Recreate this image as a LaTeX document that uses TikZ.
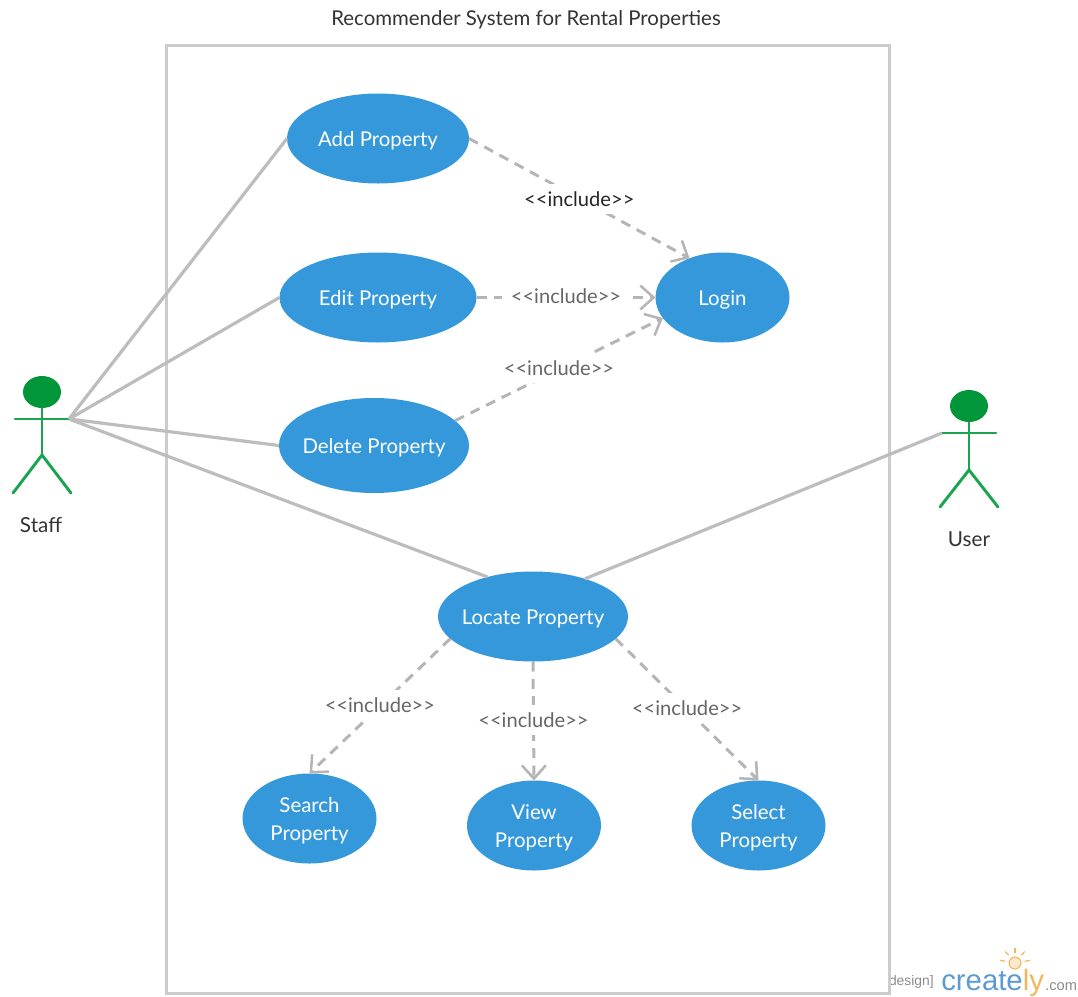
\documentclass[tikz,border=0pt]{standalone}
\usepackage{fontspec}
\setmainfont{Lato}
\newfontfamily\wmfont{Liberation Sans}
\usetikzlibrary{arrows.meta,shapes.geometric}
\definecolor{usecase}{HTML}{3498DB}
\definecolor{headgreen}{HTML}{009639}
\definecolor{limbgreen}{HTML}{1AA350}
\definecolor{frameg}{HTML}{CCCCCC}
\definecolor{assoc}{HTML}{BDBDBD}
\definecolor{dep}{HTML}{B5B5B5}
\definecolor{labelg}{HTML}{666666}
\definecolor{wmblue}{HTML}{5B9BD0}
\definecolor{wmorange}{HTML}{F5B55A}
\newcommand{\uctext}[1]{\raisebox{-5.2pt}[0pt][0pt]{\makebox[0pt]{\begin{tabular}{@{}c@{}}#1\end{tabular}}}}
\tikzset{
  x=0.75pt,y=-0.75pt,
  ucase/.style={ellipse,fill=usecase,text=white,inner sep=0pt,outer sep=0pt,
    font=\fontsize{15.3}{21}\selectfont},
  assocline/.style={draw=assoc,line width=2.4pt},
  depline/.style={draw=dep,line width=2.25pt,dash pattern=on 7.5pt off 5.5pt,
    -{Straight Barb[length=10pt,width=18pt,line width=1.9pt]}},
  inclabel/.style={midway,fill=white,inner xsep=7pt,inner ysep=5.5pt,text=labelg,yshift=1pt,font=\fontsize{15.1}{17}\selectfont},
  limb/.style={draw=limbgreen,line width=2.2pt,line cap=round},
  actorlabel/.style={text=black!80,font=\fontsize{15.5}{17}\selectfont},
}
\begin{document}
\begin{tikzpicture}
\useasboundingbox (0,0) rectangle (1078,996);
\node[text=black!80,font=\fontsize{15.3}{17}\selectfont] (title) at (526,19.5) {Recommender System for Rental Properties};
\node[text=black!45,font=\wmfont\fontsize{10.4}{12}\selectfont,anchor=east,inner sep=0pt] (wmdesign) at (934,982) {design]};
\node[draw=frameg,line width=2.25pt,minimum width=723*0.75pt,minimum height=948*0.75pt,inner sep=0pt] (frame) at (527.5,519) {};

% use cases
\node[ucase,minimum width=182*0.75pt,minimum height=90*0.75pt] (add) at (378,138.5) {\uctext{Add Property}};
\node[ucase,minimum width=197*0.75pt,minimum height=90*0.75pt] (edit) at (378,297.5) {\uctext{Edit Property}};
\node[ucase,minimum width=190*0.75pt,minimum height=95*0.75pt] (delete) at (374,445.5) {\uctext{Delete Property}};
\node[ucase,minimum width=134*0.75pt,minimum height=90*0.75pt] (login) at (722.5,297.5) {\uctext{Login}};
\node[ucase,minimum width=190*0.75pt,minimum height=90*0.75pt] (locate) at (533,616.5) {\uctext{Locate Property}};
\node[ucase,minimum width=134*0.75pt,minimum height=90*0.75pt] (search) at (309.5,818.5) {\uctext{Search\\Property}};
\node[ucase,minimum width=134*0.75pt,minimum height=90*0.75pt] (view) at (534,825.5) {\uctext{View\\Property}};
\node[ucase,minimum width=134*0.75pt,minimum height=90*0.75pt] (select) at (758.5,825.5) {\uctext{Select\\Property}};

% Staff actor
\node[ellipse,fill=headgreen,minimum width=38*0.75pt,minimum height=32*0.75pt,inner sep=0pt] (staffhead) at (42,392) {};
\coordinate (staffhand) at (69,419);
\coordinate (staffhandl) at (15,419);
\coordinate (staffhip) at (42,455);
\draw[limb] (staffhandl) -- (staffhand);
\draw[limb] (staffhead.south) -- (staffhip);
\draw[limb] (13,493) -- (staffhip) -- (71,493);
\node[actorlabel] (stafflabel) at (41,525) {Staff};

% User actor
\node[ellipse,fill=headgreen,minimum width=38*0.75pt,minimum height=32*0.75pt,inner sep=0pt] (userhead) at (969,406) {};
\coordinate (userhand) at (942,433);
\coordinate (userhandr) at (996,433);
\coordinate (userhip) at (969,470);
\draw[limb] (userhand) -- (userhandr);
\draw[limb] (userhead.south) -- (userhip);
\draw[limb] (940,507) -- (userhip) -- (998,507);
\node[actorlabel] (userlabel) at (969,539.5) {User};

% associations
\draw[assocline] (staffhand) -- (add.west);
\draw[assocline] (staffhand) -- (edit.west);
\draw[assocline] (staffhand) -- (delete.west);
\draw[assocline] (staffhand) -- (locate.139);
\draw[assocline] (userhand) -- (locate.36.5);

% includes
\draw[depline] (add.east) -- (login.130) node[inclabel,text=black!85,yshift=-1.5pt] {<{}<include>{}>};
\draw[depline] (edit.east) -- (login.west) node[inclabel] {<{}<include>{}>};
\draw[depline] (delete.17) -- (login.199.6) node[inclabel] {<{}<include>{}>};
\draw[depline] (locate.195) -- (search.north) node[inclabel] {<{}<include>{}>};
\draw[depline] (locate.south) -- (view.north) node[inclabel] {<{}<include>{}>};
\draw[depline] (locate.-15) -- (select.north) node[inclabel] {<{}<include>{}>};

% watermark
\node[text=wmblue,font=\wmfont\fontsize{22}{26}\selectfont,anchor=base west,inner sep=0pt] (wmname) at (941,990) {create\textcolor{wmorange}{ly}};
\node[text=black!45,font=\wmfont\fontsize{11}{13}\selectfont,anchor=base west,inner sep=0pt] (wmcom) at (1045,990) {.com};
\filldraw[fill=wmorange!30,draw=wmorange,line width=0.8pt] (1015,963) circle[radius=6];
\foreach \a in {-170,-130,-90,-50,-10}
  \draw[wmorange,line width=0.9pt] (1015,963) ++(\a:10) -- ++(\a:5);
\end{tikzpicture}
\end{document}
